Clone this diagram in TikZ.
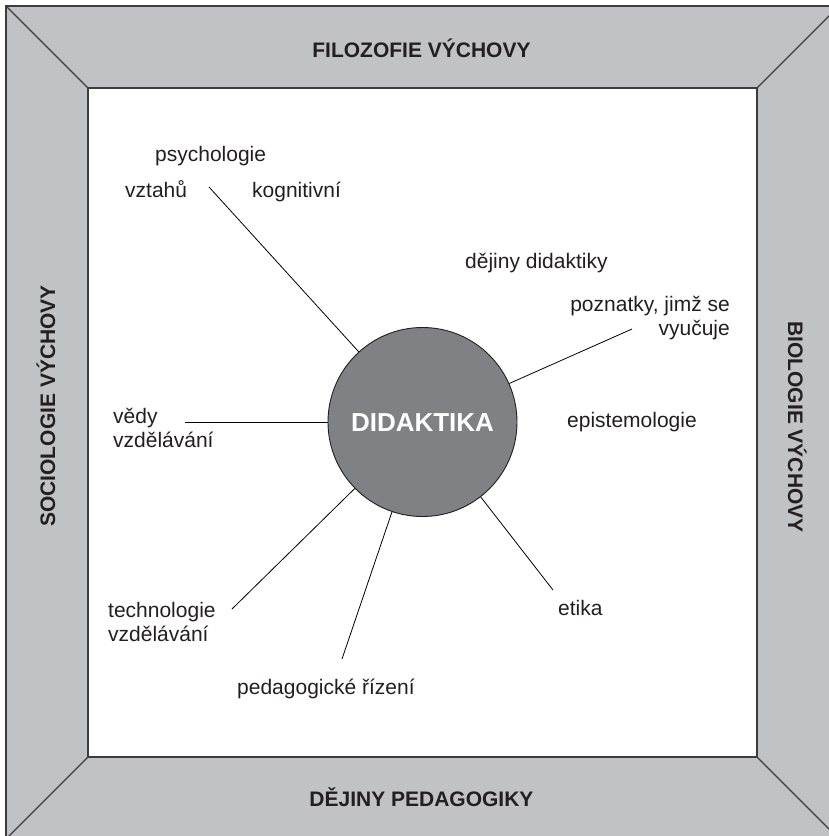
\documentclass[tikz,border=0pt]{standalone}
\usepackage{fontspec}
\setmainfont{Liberation Sans}
\definecolor{bandgray}{HTML}{C1C2C6}
\definecolor{edge}{HTML}{3C3C3E}
\definecolor{circfill}{HTML}{808185}
\definecolor{txt}{HTML}{231F20}
\begin{document}
\begin{tikzpicture}[x=1pt,y=-1pt,
  lbl/.style={inner sep=0pt, anchor=base west, font=\fontsize{21}{24}\selectfont, text=txt},
  lblr/.style={inner sep=0pt, anchor=base east, align=right, font=\fontsize{21}{24}\selectfont, text=txt},
  lbll/.style={inner sep=0pt, anchor=base west, align=left, font=\fontsize{21}{24}\selectfont, text=txt},
  bandtxt/.style={inner sep=0pt, anchor=base, font=\fontsize{21}{24}\selectfont\bfseries, text=txt},
  frameline/.style={draw=edge, line width=1.1pt},
  conn/.style={draw=black, line width=0.8pt}]
\useasboundingbox (0,0) rectangle (829,836);
\clip (0,0) rectangle (829,836);
% frame
\coordinate (o1) at (6,6);
\coordinate (o2) at (839,6);
\coordinate (o3) at (839,839);
\coordinate (o4) at (6,839);
\coordinate (i1) at (88,88);
\coordinate (i2) at (757,88);
\coordinate (i3) at (757,757);
\coordinate (i4) at (88,757);
\fill[bandgray] (o1) rectangle (o3);
\fill[white] (i1) rectangle (i3);
\draw[frameline] (o1) rectangle (o3);
\draw[frameline] (i1) rectangle (i3);
\draw[frameline] (o1) -- (i1);
\draw[frameline] (o2) -- (i2);
\draw[frameline] (o3) -- (i3);
\draw[frameline] (o4) -- (i4);
% band texts
\node[bandtxt] (top) at (421.5,57) {FILOZOFIE VÝCHOVY};
\node[bandtxt] (bot) at (421.5,806) {DĚJINY PEDAGOGIKY};
\node[bandtxt, rotate=90] (left) at (55,406) {SOCIOLOGIE VÝCHOVY};
\node[bandtxt, rotate=-90] (right) at (788,427) {BIOLOGIE VÝCHOVY};
% central circle
\node[circle, minimum size=189pt, inner sep=0pt, fill=circfill, draw=txt, line width=0.9pt] (did) at (422.5,422) {};
\node[inner sep=0pt, anchor=base, font=\fontsize{26}{30}\selectfont\bfseries, text=white] (didt) at (422.5,431) {DIDAKTIKA};
% labels
\node[lbl] (psy) at (155,161) {psychologie};
\node[lbl] (vzt) at (125,197) {vztahů};
\node[lbl] (kog) at (252,197) {kognitivní};
\node[lbl] (dej) at (465,268) {dějiny didaktiky};
\node[lblr] (poz) at (730,335) {poznatky, jimž se\\vyučuje};
\node[lbl] (epi) at (567,427) {epistemologie};
\node[lbll] (ved) at (113,447) {vědy\\vzdělávání};
\node[lbll] (tech) at (108,641) {technologie\\vzdělávání};
\node[lbl] (ped) at (237,694) {pedagogické řízení};
\node[lbl] (eti) at (558,615) {etika};
% connector ends
\coordinate (cPsy) at (209,187);
\coordinate (cPoz) at (632,329);
\coordinate (cVed) at (185,422);
\coordinate (cTech) at (232,609);
\coordinate (cPed) at (342,659);
\coordinate (cEti) at (553,590);
\draw[conn] (cPsy) -- (did);
\draw[conn] (cPoz) -- (did);
\draw[conn] (cVed) -- (did);
\draw[conn] (cTech) -- (did);
\draw[conn] (cPed) -- (did);
\draw[conn] (cEti) -- (did);
\end{tikzpicture}
\end{document}
